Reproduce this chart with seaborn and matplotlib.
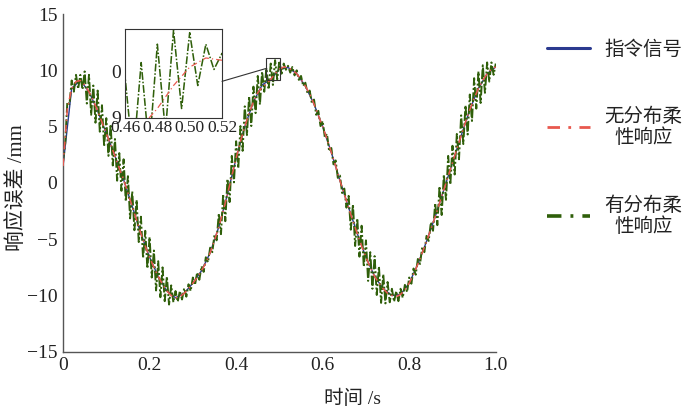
import numpy as np
import matplotlib
matplotlib.use("Agg")
from matplotlib import pyplot as plt
from matplotlib.lines import Line2D
from matplotlib.patches import Rectangle, ConnectionPatch
import seaborn as sns

# command signal (mm), sampled every 0.02 s
cmd_t = np.round(np.linspace(0, 1, 51), 3)
cmd_mm = [1.5, 8.4, 9.1, 8.1, 6.4, 4.4, 2.4, 0.3, -2.1, -4.5,
          -6.6, -8.3, -9.6, -10.2, -9.8, -8.9, -7.8, -6.2, -3.9, -1.0,
          2.2, 5.0, 7.2, 8.7, 9.2, 10.1, 10.25, 9.7, 8.6, 7.0,
          5.0, 2.7, 0.2, -2.2, -4.5, -6.6, -8.3, -9.4, -10.0, -9.9,
          -8.9, -7.2, -5.2, -3.0, -0.6, 1.8, 4.2, 6.5, 8.4, 9.7,
          10.3]

# response without distributed flexibility, every 0.01 s
rigid_t = np.round(np.linspace(0, 1, 101), 3)
rigid_mm = [1.5, 6.6, 8.4, 9.0, 9.1, 8.7, 8.1, 7.3, 6.4, 5.4,
            4.4, 3.4, 2.4, 1.3, 0.3, -0.9, -2.1, -3.3, -4.5, -5.6,
            -6.6, -7.5, -8.3, -9.0, -9.6, -10.0, -10.2, -10.1, -9.8, -9.4,
            -8.9, -8.4, -7.8, -7.1, -6.2, -5.1, -3.9, -2.5, -1.0, 0.6,
            2.2, 3.7, 5.0, 6.2, 7.2, 8.0, 8.5, 8.8, 9.2, 9.7,
            10.1, 10.3, 10.25, 10.0, 9.7, 9.2, 8.6, 7.9, 7.0, 6.0,
            5.0, 3.9, 2.7, 1.5, 0.2, -1.0, -2.2, -3.4, -4.5, -5.6,
            -6.6, -7.5, -8.3, -8.9, -9.4, -9.8, -10.0, -10.1, -9.9, -9.5,
            -8.9, -8.1, -7.2, -6.2, -5.2, -4.1, -3.0, -1.8, -0.6, 0.6,
            1.8, 3.0, 4.2, 5.4, 6.5, 7.5, 8.4, 9.1, 9.7, 10.1,
            10.3]

# response with distributed flexibility, every 0.005 s
flex_t = np.round(np.linspace(0, 1, 201), 4)
flex_mm = [1.9, 3.5, 7.2, 7.0, 9.1, 8.1, 9.6, 8.35, 9.6, 8.3,
           9.9, 7.05, 9.6, 6.05, 8.65, 5.35, 8.2, 4.55, 6.9, 3.25,
           5.75, 2.4, 5.2, 1.55, 3.9, 0.2, 2.65, -0.7, 2.1, -1.65,
           0.6, -3.15, -0.75, -4.2, -1.5, -5.25, -3.0, -6.7, -4.25, -7.6,
           -4.8, -8.4, -6.0, -9.55, -6.95, -10.15, -7.5, -10.5, -8.3, -10.8,
           -9.1, -10.6, -9.6, -10.55, -9.6, -10.35, -9.35, -10.1, -9.0, -9.6,
           -8.4, -9.05, -7.95, -8.6, -7.4, -7.9, -6.6, -7.05, -5.75, -6.15,
           -4.6, -5.1, -2.7, -4.55, -1.0, -3.4, 0.35, -1.7, 2.4, 0.05,
           3.7, 1.3, 5.05, 2.85, 6.8, 4.25, 7.7, 5.05, 8.55, 6.2,
           9.5, 6.95, 9.9, 8.1, 10.2, 8.3, 10.6, 8.7, 10.9, 9.2,
           10.85, 9.7, 10.6, 10.05, 10.4, 9.8, 10.3, 9.55, 10.0, 9.15,
           9.5, 8.6, 8.9, 7.95, 8.2, 7.1, 7.4, 6.05, 6.4, 5.05,
           5.5, 4.05, 4.35, 2.8, 3.1, 1.65, 2.0, 0.45, 0.65, -0.9,
           -0.5, -2.2, -1.15, -4.15, -1.9, -5.6, -3.15, -6.55, -3.8, -7.45,
           -5.1, -8.7, -6.15, -9.4, -6.5, -9.95, -7.4, -10.65, -8.1, -10.7,
           -8.8, -10.6, -9.4, -10.55, -9.6, -10.5, -9.4, -10.2, -9.05, -9.7,
           -8.4, -8.95, -7.6, -8.15, -6.75, -7.2, -5.7, -6.15, -4.7, -5.15,
           -3.5, -4.25, -1.8, -3.75, -0.3, -2.85, 0.75, -1.5, 2.4, -0.15,
           3.3, 0.75, 4.35, 2.1, 6.0, 3.45, 6.9, 4.3, 7.85, 5.5,
           9.3, 6.6, 9.9, 7.1, 10.45, 8.0, 10.7, 9.0, 10.7, 9.6,
           10.6]

legend_labels = ['指令信号', '无分布柔\n性响应', '有分布柔\n性响应']
x_ticks = [0, 0.2, 0.4, 0.6, 0.8, 1.0]
x_tick_labels = ['0', '0.2', '0.4', '0.6', '0.8', '1.0']
y_ticks = [-15, -10, -5, 0, 5, 10, 15]
inset_x_ticks = [0.46, 0.48, 0.50, 0.52]
inset_x_labels = ['0.46', '0.48', '0.50', '0.52']
inset_y_ticks = [9, 10]
inset_y_labels = ['9', '0']

blue = '#2b3a8f'
red = '#e8584e'
green = '#2f5f0a'
axis_col = '#555555'

sns.set_theme(style='white')
plt.rcParams['font.family'] = ['Liberation Serif', 'Noto Sans CJK SC']
plt.rcParams['axes.unicode_minus'] = True


def draw_curves(ax, lw, with_cmd=True):
    if with_cmd:
        sns.lineplot(x=cmd_t, y=cmd_mm, ax=ax, color=blue, linewidth=1.0 * lw,
                     estimator=None, sort=False, zorder=1)
    sns.lineplot(x=flex_t, y=flex_mm, ax=ax, color=green, linewidth=1.4 * lw,
                 linestyle=(0, (5, 1.2, 1, 1.2)), estimator=None, sort=False, zorder=2)
    sns.lineplot(x=rigid_t, y=rigid_mm, ax=ax, color=red, linewidth=1.1 * lw,
                 linestyle=(0, (5, 2.5, 1, 2.5)), estimator=None, sort=False, zorder=3)


fig = plt.figure(figsize=(6.88, 4.12), dpi=100)
ax = fig.add_axes([0.0916, 0.146, 0.629, 0.820])
draw_curves(ax, 1.0)

ax.set_xlim(0, 1.0)
ax.set_ylim(-15, 15)
ax.set_xticks(x_ticks)
ax.set_xticklabels(x_tick_labels)
ax.set_yticks(y_ticks)
for s in ['top', 'right']:
    ax.spines[s].set_visible(False)
for s in ['left', 'bottom']:
    ax.spines[s].set_color(axis_col)
    ax.spines[s].set_linewidth(1.0)
ax.tick_params(direction='in', length=5, width=1, color=axis_col,
               labelsize=14, pad=4, labelcolor='#222222')
ax.set_xlabel('时间 /s', fontsize=14, color='#222222')
ax.xaxis.set_label_coords(0.67, -0.112)
ax.set_ylabel('响应误差 /mm', fontsize=15, color='#222222')
ax.yaxis.set_label_coords(-0.083, 0.485)

# zoom window on the main axes
ax.add_patch(Rectangle((0.468, 9.1), 0.034, 2.0, fill=False,
                       ec='#333333', lw=0.8, zorder=5))

# inset
ins = fig.add_axes([0.1817, 0.7143, 0.141, 0.2153])
ins.set_facecolor('white')
draw_curves(ins, 0.8, with_cmd=False)
ins.set_xlim(0.46, 0.52)
ins.set_ylim(9, 10.93)
ins.set_xticks(inset_x_ticks)
ins.set_xticklabels(inset_x_labels)
ins.set_yticks(inset_y_ticks)
ins.set_yticklabels(inset_y_labels)
ins.set_xlabel('')
ins.set_ylabel('')
for s in ins.spines.values():
    s.set_color('#333333')
    s.set_linewidth(0.8)
ins.tick_params(axis='x', direction='in', length=4, width=0.8, labelsize=12.5, pad=2,
                labelcolor='#222222')
ins.tick_params(axis='y', direction='in', length=6, width=0.8, labelsize=14, pad=3,
                labelcolor='#222222')

con = ConnectionPatch(xyA=(1.0, 0.41), coordsA=ins.transAxes,
                      xyB=(0.468, 10.15), coordsB=ax.transData,
                      color='#333333', lw=0.8)
fig.add_artist(con)

handles = [Line2D([], [], color=blue, lw=2.2),
           Line2D([], [], color=red, lw=2.0, linestyle=(0, (4.5, 3, 1, 3))),
           Line2D([], [], color=green, lw=2.6, linestyle=(0, (4, 2.5, 0.8, 2.5)))]
leg = fig.legend(handles, legend_labels, loc='upper left',
                 bbox_to_anchor=(0.795, 0.902), frameon=False, fontsize=14,
                 handlelength=2.2, handletextpad=0.75, labelspacing=2.5,
                 borderpad=0, borderaxespad=0)
for t in leg.get_texts():
    t.set_multialignment('center')
    t.set_color('#222222')

fig.savefig('out.png', dpi=100)
